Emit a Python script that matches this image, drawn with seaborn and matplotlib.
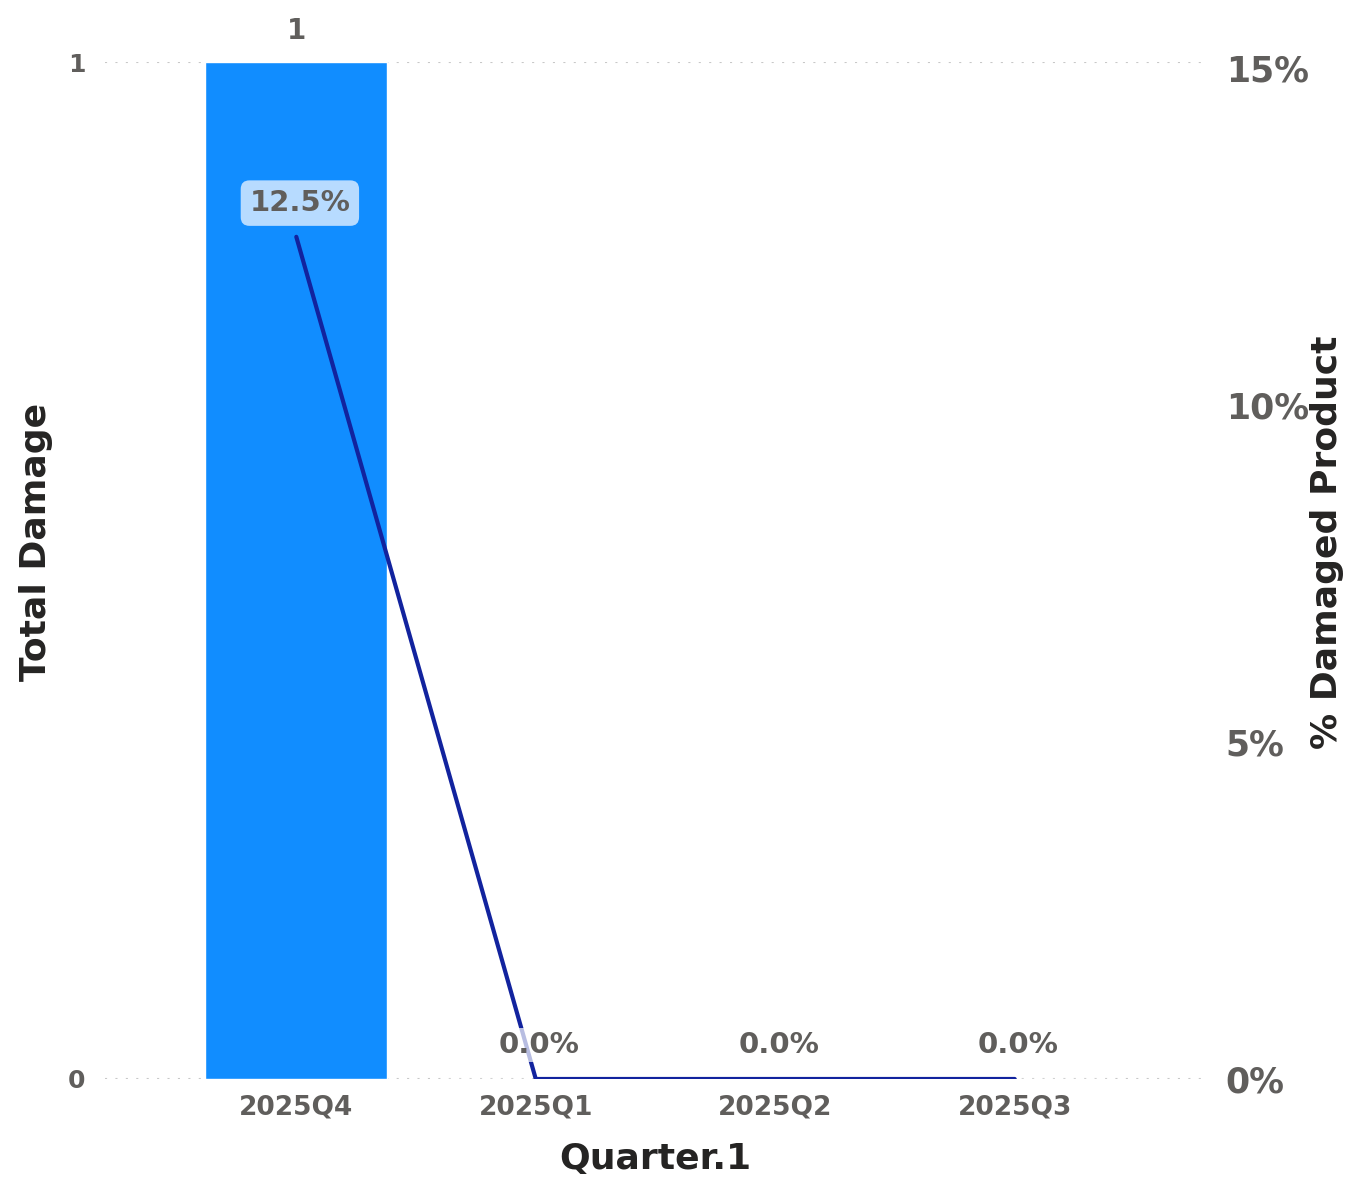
import matplotlib.pyplot as plt
import seaborn as sns
import pandas as pd

quarters = ["2025Q4", "2025Q1", "2025Q2", "2025Q3"]
total_damage = [1, 0, 0, 0]
pct_damaged = [0.125, 0.0, 0.0, 0.0]

df = pd.DataFrame({
    "quarter": quarters,
    "damage": total_damage,
    "pct": pct_damaged,
})
df["pos"] = df.index

sns.set_theme(style="white")
plt.rcParams['font.family'] = ['DejaVu Sans']

label_color = "#605E5C"
title_color = "#252423"

fig = plt.figure(figsize=(13.6, 11.8), dpi=100)
ax = fig.add_axes([0.077, 0.0856, 0.81, 0.8616])

sns.barplot(
    data=df,
    x="quarter",
    y="damage",
    order=quarters,
    color="#118DFF",
    saturation=1,
    width=0.76,
    ax=ax
)

ax.set_xlim(-0.8, 3.8)
ax.set_ylim(0, 1)
ax.set_yticks([0, 1])
ax.set_yticklabels(["0", "1"])
ax.yaxis.grid(True, linestyle=(0, (1, 4)), color="#C8C8C8", linewidth=1.5)
ax.set_axisbelow(True)
for s in ax.spines.values():
    s.set_visible(False)
ax.tick_params(axis="y", length=0, pad=14, labelsize=18, labelcolor=label_color)
ax.tick_params(axis="x", length=0, pad=11, labelsize=19, labelcolor=label_color)
for t in ax.get_xticklabels() + ax.get_yticklabels():
    t.set_fontweight("bold")

ax.set_xlabel("Quarter.1", fontsize=26, fontweight="bold", color=title_color, labelpad=16)
ax.set_ylabel("Total Damage", fontsize=26, fontweight="bold", color=title_color)
ax.yaxis.set_label_coords(-0.047, 0.528)

# bar value labels
for i, v in enumerate(total_damage):
    if v > 0:
        ax.text(i, v + 0.017, f"{v}", ha="center", va="bottom",
                fontsize=20, fontweight="bold", color=label_color)

ax2 = ax.twinx()
sns.lineplot(
    data=df,
    x="pos",
    y="pct",
    color="#12239E",
    linewidth=3,
    ax=ax2
)
ax2.set_ylim(0, 0.1509)
ax2.set_yticks([0, 0.05, 0.10, 0.15])
ax2.set_yticklabels(["0%", "5%", "10%", "15%"])
for s in ax2.spines.values():
    s.set_visible(False)
ax2.tick_params(axis="y", length=0, pad=14, labelsize=25, labelcolor=label_color)
for t in ax2.get_yticklabels():
    t.set_fontweight("bold")
ax2.set_ylabel("% Damaged Product", fontsize=26, fontweight="bold", color=title_color)
ax2.yaxis.set_label_coords(1.094, 0.528)
ax2.set_xlabel("")

# line value labels
for i, v in enumerate(pct_damaged):
    if v > 0:
        ax2.text(i + 0.015, v + 0.005, f"{v*100:.1f}%", ha="center", va="center",
                 fontsize=21, fontweight="bold", color=label_color,
                 bbox=dict(boxstyle="round,pad=0.3,rounding_size=0.3",
                           facecolor="#B7DBFF", edgecolor="none"))
    else:
        ax2.text(i + 0.015, v + 0.005, f"{v*100:.1f}%", ha="center", va="center",
                 fontsize=21, fontweight="bold", color=label_color,
                 bbox=dict(boxstyle="square,pad=0.1", facecolor="white",
                           edgecolor="none", alpha=0.7))

plt.savefig("out.png", dpi=100)
plt.close()
